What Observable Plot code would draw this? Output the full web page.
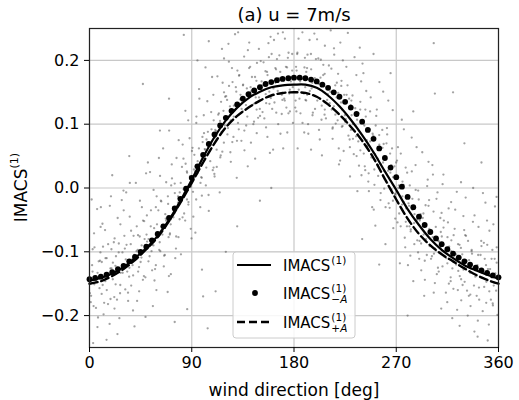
<!DOCTYPE html>
<html><head><meta charset="utf-8">
<script src="https://cdn.jsdelivr.net/npm/d3@7"></script>
<script src="https://cdn.jsdelivr.net/npm/@observablehq/plot@0.6"></script>
<style>body{margin:0;background:#fff;font-family:"DejaVu Sans",sans-serif}</style>
</head><body><div id="chart"></div><script>
const title = "(a) u = 7m/s";
const xLabel = "wind direction [deg]";
const xTicks = [0, 90, 180, 270, 360];
const yTicks = [-0.2, -0.1, 0.0, 0.1, 0.2];

// IMACS(1) (solid) and IMACS(1)_{+A} (dashed), every 10 deg
const degCoarse = [0,10,20,30,40,50,60,70,80,90,100,110,120,130,140,150,160,170,180,190,200,210,220,230,240,250,260,270,280,290,300,310,320,330,340,350,360];
const imacs = [-0.145,-0.141,-0.134,-0.124,-0.110,-0.094,-0.075,-0.050,-0.020,0.013,0.048,0.080,0.106,0.126,0.141,0.151,0.158,0.161,0.162,0.162,0.157,0.145,0.128,0.107,0.083,0.056,0.026,-0.003,-0.033,-0.058,-0.080,-0.097,-0.110,-0.121,-0.129,-0.136,-0.142];
const imacsPlusA = [-0.150,-0.146,-0.138,-0.127,-0.113,-0.096,-0.077,-0.052,-0.023,0.008,0.040,0.070,0.095,0.113,0.126,0.137,0.145,0.149,0.150,0.149,0.143,0.131,0.115,0.096,0.074,0.047,0.014,-0.018,-0.048,-0.072,-0.090,-0.104,-0.115,-0.126,-0.136,-0.144,-0.150];

// IMACS(1)_{-A} (dots), every 5 deg
const degFine = [0,5,10,15,20,25,30,35,40,45,50,55,60,65,70,75,80,85,90,95,100,105,110,115,120,125,130,135,140,145,150,155,160,165,170,175,180,185,190,195,200,205,210,215,220,225,230,235,240,245,250,255,260,265,270,275,280,285,290,295,300,305,310,315,320,325,330,335,340,345,350,355,360];
const imacsMinusA = [-0.143,-0.141,-0.139,-0.136,-0.132,-0.127,-0.122,-0.115,-0.108,-0.100,-0.092,-0.082,-0.072,-0.060,-0.047,-0.032,-0.017,-0.001,0.016,0.034,0.052,0.069,0.084,0.098,0.110,0.121,0.131,0.140,0.147,0.153,0.158,0.163,0.166,0.169,0.171,0.172,0.173,0.173,0.172,0.170,0.167,0.162,0.157,0.150,0.143,0.135,0.126,0.116,0.104,0.091,0.077,0.062,0.047,0.032,0.017,0.002,-0.014,-0.030,-0.045,-0.058,-0.069,-0.079,-0.088,-0.096,-0.103,-0.109,-0.115,-0.120,-0.125,-0.129,-0.133,-0.137,-0.140];

// scattered samples [deg, value]
const samples = [
[3.2,-0.243],[7.5,-0.203],[1.1,-0.179],[8.8,-0.157],[5.4,-0.138],[2.3,-0.121],[9.6,-0.101],[4.0,-0.071],[6.7,-0.033],
[16.1,-0.133],[10.8,-0.116],[19.3,-0.096],[13.7,-0.066],[17.9,-0.028],[15.0,-0.238],[12.4,-0.198],[18.5,-0.174],[11.6,-0.152],
[28.4,-0.019],[24.6,-0.229],[22.0,-0.189],[26.9,-0.165],[20.5,-0.143],[29.1,-0.124],[23.3,-0.107],[25.8,-0.087],[27.2,-0.057],
[33.2,-0.131],[37.5,-0.112],[31.1,-0.095],[38.8,-0.075],[35.4,-0.045],[32.3,-0.007],[39.6,-0.217],[34.0,-0.177],[36.7,-0.153],
[46.1,-0.030],[40.8,0.008],[49.3,-0.202],[43.7,-0.162],[47.9,-0.138],[45.0,-0.116],[42.4,-0.097],[48.5,-0.080],[41.6,-0.060],
[58.4,-0.121],[54.6,-0.099],[52.0,-0.080],[56.9,-0.063],[50.5,-0.043],[59.1,-0.013],[53.3,0.025],[55.8,-0.185],[57.2,-0.145],
[63.2,-0.021],[67.5,0.009],[61.1,0.047],[68.8,-0.163],[65.4,-0.123],[62.3,-0.099],[69.6,-0.077],[64.0,-0.058],[66.7,-0.041],
[76.1,-0.095],[70.8,-0.071],[79.3,-0.049],[73.7,-0.030],[77.9,-0.013],[75.0,0.007],[72.4,0.037],[78.5,0.075],[71.6,-0.135],
[88.4,0.018],[84.6,0.038],[82.0,0.068],[86.9,0.106],[80.5,-0.104],[89.1,-0.064],[83.3,-0.040],[85.8,-0.018],[87.2,0.001],
[93.2,-0.070],[97.5,-0.030],[91.1,-0.006],[98.8,0.016],[95.4,0.035],[92.3,0.052],[99.6,0.072],[94.0,0.102],[96.7,0.140],
[106.1,0.069],[100.8,0.086],[109.3,0.106],[103.7,0.136],[107.9,0.174],[105.0,-0.036],[102.4,0.004],[108.5,0.028],[101.6,0.050],
[118.4,0.203],[114.6,-0.007],[112.0,0.033],[116.9,0.057],[110.5,0.079],[119.1,0.098],[113.3,0.115],[115.8,0.135],[117.2,0.165],
[123.2,0.102],[127.5,0.121],[121.1,0.138],[128.8,0.158],[125.4,0.188],[122.3,0.226],[129.6,0.016],[124.0,0.056],[126.7,0.080],
[136.1,0.206],[130.8,0.244],[139.3,0.034],[133.7,0.074],[137.9,0.098],[135.0,0.120],[132.4,0.139],[138.5,0.156],[131.6,0.176],
[148.4,0.110],[144.6,0.132],[142.0,0.151],[146.9,0.168],[140.5,0.188],[149.1,0.218],[143.3,0.256],[145.8,0.046],[147.2,0.086],
[153.2,0.197],[157.5,0.227],[151.1,0.265],[158.8,0.055],[155.4,0.095],[152.3,0.119],[159.6,0.141],[154.0,0.160],[156.7,0.177],
[166.1,0.100],[160.8,0.124],[169.3,0.146],[163.7,0.165],[167.9,0.182],[165.0,0.202],[162.4,0.232],[168.5,0.270],[161.6,0.060],
[178.4,0.184],[174.6,0.204],[172.0,0.234],[176.9,0.272],[170.5,0.062],[179.1,0.102],[173.3,0.126],[175.8,0.148],[177.2,0.167],
[183.2,0.062],[187.5,0.102],[181.1,0.126],[188.8,0.148],[185.4,0.167],[182.3,0.184],[189.6,0.204],[184.0,0.234],[186.7,0.272],
[196.1,0.165],[190.8,0.182],[199.3,0.202],[193.7,0.232],[197.9,0.270],[195.0,0.060],[192.4,0.100],[198.5,0.124],[191.6,0.146],
[208.4,0.261],[204.6,0.051],[202.0,0.091],[206.9,0.115],[200.5,0.137],[209.1,0.156],[203.3,0.173],[205.8,0.193],[207.2,0.223],
[213.2,0.123],[217.5,0.142],[211.1,0.159],[218.8,0.179],[215.4,0.209],[212.3,0.247],[219.6,0.037],[214.0,0.077],[216.7,0.101],
[226.1,0.190],[220.8,0.228],[229.3,0.018],[223.7,0.058],[227.9,0.082],[225.0,0.104],[222.4,0.123],[228.5,0.140],[221.6,0.160],
[238.4,0.059],[234.6,0.081],[232.0,0.100],[236.9,0.117],[230.5,0.137],[239.1,0.167],[233.3,0.205],[235.8,-0.005],[237.2,0.035],
[243.2,0.112],[247.5,0.142],[241.1,0.180],[248.8,-0.030],[245.4,0.010],[242.3,0.034],[249.6,0.056],[244.0,0.075],[246.7,0.092],
[256.1,-0.019],[250.8,0.005],[259.3,0.027],[253.7,0.046],[257.9,0.063],[255.0,0.083],[252.4,0.113],[258.5,0.151],[251.6,-0.059],
[268.4,0.034],[264.6,0.054],[262.0,0.084],[266.9,0.122],[260.5,-0.088],[269.1,-0.048],[263.3,-0.024],[265.8,-0.002],[267.2,0.017],
[273.2,-0.118],[277.5,-0.078],[271.1,-0.054],[278.8,-0.032],[275.4,-0.013],[272.3,0.004],[279.6,0.024],[274.0,0.054],[276.7,0.092],
[286.1,-0.041],[280.8,-0.024],[289.3,-0.004],[283.7,0.026],[287.9,0.064],[285.0,-0.146],[282.4,-0.106],[288.5,-0.082],[281.6,-0.060],
[298.4,0.041],[294.6,-0.169],[292.0,-0.129],[296.9,-0.105],[290.5,-0.083],[299.1,-0.064],[293.3,-0.047],[295.8,-0.027],[297.2,0.003],
[303.2,-0.103],[307.5,-0.084],[301.1,-0.067],[308.8,-0.047],[305.4,-0.017],[302.3,0.021],[309.6,-0.189],[304.0,-0.149],[306.7,-0.125],
[316.1,-0.032],[310.8,0.006],[319.3,-0.204],[313.7,-0.164],[317.9,-0.140],[315.0,-0.118],[312.4,-0.099],[318.5,-0.082],[311.6,-0.062],
[328.4,-0.152],[324.6,-0.130],[322.0,-0.111],[326.9,-0.094],[320.5,-0.074],[329.1,-0.044],[323.3,-0.006],[325.8,-0.216],[327.2,-0.176],
[333.2,-0.083],[337.5,-0.053],[331.1,-0.015],[338.8,-0.225],[335.4,-0.185],[332.3,-0.161],[339.6,-0.139],[334.0,-0.120],[336.7,-0.103],
[346.1,-0.193],[340.8,-0.169],[349.3,-0.147],[343.7,-0.128],[347.9,-0.111],[345.0,-0.091],[342.4,-0.061],[348.5,-0.023],[341.6,-0.233],
[358.4,-0.117],[354.6,-0.097],[352.0,-0.067],[356.9,-0.029],[350.5,-0.239],[359.1,-0.199],[353.3,-0.175],[355.8,-0.153],[357.2,-0.134],
[0.3,-0.165],[5.9,-0.147],[2.7,-0.131],[8.1,-0.115],[4.4,-0.093],[9.8,-0.061],[1.9,-0.018],[7.0,-0.218],[3.6,-0.185],
[17.7,-0.213],[12.9,-0.180],[15.2,-0.160],[10.2,-0.142],[19.4,-0.126],[14.1,-0.110],[16.4,-0.088],[11.4,-0.056],[18.9,-0.013],
[24.8,-0.047],[29.9,-0.004],[26.3,-0.204],[21.8,-0.171],[23.0,-0.151],[27.4,-0.133],[20.6,-0.117],[29.0,-0.101],[22.1,-0.079],
[32.6,-0.089],[36.6,-0.067],[30.1,-0.035],[35.5,0.008],[38.3,-0.192],[31.5,-0.159],[34.9,-0.139],[37.9,-0.121],[39.4,-0.105],
[40.3,-0.106],[45.9,-0.090],[42.7,-0.074],[48.1,-0.052],[44.4,-0.020],[49.8,0.023],[41.9,-0.177],[47.0,-0.144],[43.6,-0.124],
[57.7,-0.127],[52.9,-0.107],[55.2,-0.089],[50.2,-0.073],[59.4,-0.057],[54.1,-0.035],[56.4,-0.003],[51.4,0.040],[58.9,-0.160],
[64.8,0.062],[69.9,-0.138],[66.3,-0.105],[61.8,-0.085],[63.0,-0.067],[67.4,-0.051],[60.6,-0.035],[69.0,-0.013],[62.1,0.019],
[72.6,0.015],[76.6,0.047],[70.1,0.090],[75.5,-0.110],[78.3,-0.077],[71.5,-0.057],[74.9,-0.039],[77.9,-0.023],[79.4,-0.007],
[80.3,0.008],[85.9,0.024],[82.7,0.046],[88.1,0.078],[84.4,0.121],[89.8,-0.079],[81.9,-0.046],[87.0,-0.026],[83.6,-0.008],
[97.7,0.008],[92.9,0.026],[95.2,0.042],[90.2,0.058],[99.4,0.080],[94.1,0.112],[96.4,0.155],[91.4,-0.045],[98.9,-0.012],
[104.8,-0.011],[109.9,0.022],[106.3,0.042],[101.8,0.060],[103.0,0.076],[107.4,0.092],[100.6,0.114],[109.0,0.146],[102.1,0.189],
[112.6,0.175],[116.6,0.218],[110.1,0.018],[115.5,0.051],[118.3,0.071],[111.5,0.089],[114.9,0.105],[117.9,0.121],[119.4,0.143],
[120.3,0.144],[125.9,0.166],[122.7,0.198],[128.1,0.241],[124.4,0.041],[129.8,0.074],[121.9,0.094],[127.0,0.112],[123.6,0.128],
[137.7,0.130],[132.9,0.146],[135.2,0.162],[130.2,0.184],[139.4,0.216],[134.1,0.259],[136.4,0.059],[131.4,0.092],[138.9,0.112],
[144.8,0.104],[149.9,0.124],[146.3,0.142],[141.8,0.158],[143.0,0.174],[147.4,0.196],[140.6,0.228],[149.0,0.271],[142.1,0.071],
[152.6,0.280],[156.6,0.080],[150.1,0.113],[155.5,0.133],[158.3,0.151],[151.5,0.167],[154.9,0.183],[157.9,0.205],[159.4,0.237],
[160.3,0.210],[165.9,0.242],[162.7,0.285],[168.1,0.085],[164.4,0.118],[169.8,0.138],[161.9,0.156],[167.0,0.172],[163.6,0.188],
[177.7,0.174],[172.9,0.190],[175.2,0.212],[170.2,0.244],[179.4,0.287],[174.1,0.087],[176.4,0.120],[171.4,0.140],[178.9,0.158],
[184.8,0.140],[189.9,0.158],[186.3,0.174],[181.8,0.190],[183.0,0.212],[187.4,0.244],[180.6,0.287],[189.0,0.087],[182.1,0.120],
[192.6,0.085],[196.6,0.118],[190.1,0.138],[195.5,0.156],[198.3,0.172],[191.5,0.188],[194.9,0.210],[197.9,0.242],[199.4,0.285],
[200.3,0.233],[205.9,0.276],[202.7,0.076],[208.1,0.109],[204.4,0.129],[209.8,0.147],[201.9,0.163],[207.0,0.179],[203.6,0.201],
[217.7,0.165],[212.9,0.187],[215.2,0.219],[210.2,0.262],[219.4,0.062],[214.1,0.095],[216.4,0.115],[211.4,0.133],[218.9,0.149],
[224.8,0.114],[229.9,0.130],[226.3,0.146],[221.8,0.168],[223.0,0.200],[227.4,0.243],[220.6,0.043],[229.0,0.076],[222.1,0.096],
[232.6,0.053],[236.6,0.073],[230.1,0.091],[235.5,0.107],[238.3,0.123],[231.5,0.145],[234.9,0.177],[237.9,0.220],[239.4,0.020],
[240.3,0.195],[245.9,-0.005],[242.7,0.028],[248.1,0.048],[244.4,0.066],[249.8,0.082],[241.9,0.098],[247.0,0.120],[243.6,0.152],
[257.7,0.091],[252.9,0.123],[255.2,0.166],[250.2,-0.034],[259.4,-0.001],[254.1,0.019],[256.4,0.037],[251.4,0.053],[258.9,0.069],
[264.8,0.024],[269.9,0.040],[266.3,0.062],[261.8,0.094],[263.0,0.137],[267.4,-0.063],[260.6,-0.030],[269.0,-0.010],[262.1,0.008],
[272.6,-0.040],[276.6,-0.022],[270.1,-0.006],[275.5,0.010],[278.3,0.032],[271.5,0.064],[274.9,0.107],[277.9,-0.093],[279.4,-0.060],
[280.3,-0.121],[285.9,-0.088],[282.7,-0.068],[288.1,-0.050],[284.4,-0.034],[289.8,-0.018],[281.9,0.004],[287.0,0.036],[283.6,0.079],
[297.7,0.013],[292.9,0.056],[295.2,-0.144],[290.2,-0.111],[299.4,-0.091],[294.1,-0.073],[296.4,-0.057],[291.4,-0.041],[298.9,-0.019],
[304.8,-0.061],[309.9,-0.039],[306.3,-0.007],[301.8,0.036],[303.0,-0.164],[307.4,-0.131],[300.6,-0.111],[309.0,-0.093],[302.1,-0.077],
[312.6,-0.108],[316.6,-0.092],[310.1,-0.076],[315.5,-0.054],[318.3,-0.022],[311.5,0.021],[314.9,-0.179],[317.9,-0.146],[319.4,-0.126],
[320.3,-0.158],[325.9,-0.138],[322.7,-0.120],[328.1,-0.104],[324.4,-0.088],[329.8,-0.066],[321.9,-0.034],[327.0,0.009],[323.6,-0.191],
[337.7,0.000],[332.9,-0.200],[335.2,-0.167],[330.2,-0.147],[339.4,-0.129],[334.1,-0.113],[336.4,-0.097],[331.4,-0.075],[338.9,-0.043],
[344.8,-0.083],[349.9,-0.051],[346.3,-0.008],[341.8,-0.208],[343.0,-0.175],[347.4,-0.155],[340.6,-0.137],[349.0,-0.121],[342.1,-0.105],
[352.6,-0.127],[356.6,-0.111],[350.1,-0.089],[355.5,-0.057],[358.3,-0.014],[351.5,-0.214],[354.9,-0.181],[357.9,-0.161],[359.4,-0.143],
[1.4,-0.169],[4.2,-0.151],[7.1,-0.133],[9.2,-0.114],[2.8,-0.096],[5.7,-0.188],
[16.3,-0.182],[10.7,-0.166],[13.9,-0.146],[18.4,-0.126],[15.1,-0.110],[11.9,-0.092],
[21.4,-0.085],[24.2,-0.175],[27.1,-0.152],[29.2,-0.133],[22.8,-0.122],[25.7,-0.101],
[36.3,-0.088],[30.7,-0.075],[33.9,-0.164],[38.4,-0.137],[35.1,-0.125],[31.9,-0.112],
[41.4,-0.099],[44.2,-0.076],[47.1,-0.051],[49.2,-0.140],[42.8,-0.131],[45.7,-0.109],
[56.3,-0.090],[50.7,-0.084],[53.9,-0.060],[58.4,-0.030],[55.1,-0.129],[51.9,-0.115],
[61.4,-0.097],[64.2,-0.073],[67.1,-0.048],[69.2,-0.025],[62.8,-0.020],[65.7,-0.106],
[76.3,-0.076],[70.7,-0.073],[73.9,-0.046],[78.4,-0.016],[75.1,-0.008],[71.9,0.004],
[81.4,0.033],[84.2,-0.051],[87.1,-0.022],[89.2,0.002],[82.8,-0.002],[85.7,0.026],
[96.3,0.062],[90.7,0.063],[93.9,-0.018],[98.4,0.017],[95.1,0.023],[91.9,0.029],
[101.4,0.061],[104.2,0.088],[107.1,0.119],[109.2,0.032],[102.8,0.032],[105.7,0.058],
[116.3,0.088],[110.7,0.091],[113.9,0.117],[118.4,0.150],[115.1,0.048],[111.9,0.060],
[121.4,0.084],[124.2,0.106],[127.1,0.129],[129.2,0.151],[122.8,0.160],[125.7,0.072],
[136.3,0.090],[130.7,0.102],[133.9,0.124],[138.4,0.148],[135.1,0.161],[131.9,0.177],
[141.4,0.190],[144.2,0.100],[147.1,0.123],[149.2,0.142],[142.8,0.153],[145.7,0.174],
[156.3,0.182],[150.7,0.199],[153.9,0.109],[158.4,0.132],[155.1,0.147],[151.9,0.161],
[161.4,0.167],[164.2,0.186],[167.1,0.208],[169.2,0.116],[162.8,0.134],[165.7,0.152],
[176.3,0.154],[170.7,0.171],[173.9,0.189],[178.4,0.210],[175.1,0.117],[171.9,0.137],
[181.4,0.137],[184.2,0.154],[187.1,0.171],[189.2,0.189],[182.8,0.210],[185.7,0.117],
[196.3,0.114],[190.7,0.137],[193.9,0.152],[198.4,0.167],[195.1,0.186],[191.9,0.209],
[201.4,0.203],[204.2,0.107],[207.1,0.123],[209.2,0.138],[202.8,0.163],[205.7,0.177],
[216.3,0.161],[210.7,0.192],[213.9,0.093],[218.4,0.106],[215.1,0.128],[211.9,0.151],
[221.4,0.134],[224.2,0.146],[227.1,0.161],[229.2,0.064],[222.8,0.097],[225.7,0.108],
[236.3,0.084],[230.7,0.114],[233.9,0.125],[238.4,0.135],[235.1,0.050],[231.9,0.077],
[241.4,0.054],[244.2,0.064],[247.1,0.073],[249.2,0.085],[242.8,0.123],[245.7,0.023],
[256.3,-0.008],[250.7,0.029],[253.9,0.036],[258.4,0.040],[255.1,0.068],[251.9,0.098],
[261.4,0.070],[264.2,-0.031],[267.1,-0.020],[269.2,-0.009],[262.8,0.027],[265.7,0.036],
[276.3,0.005],[270.7,0.043],[273.9,-0.060],[278.4,-0.053],[275.1,-0.026],[271.9,0.000],
[281.4,-0.028],[284.2,-0.017],[287.1,-0.003],[289.2,-0.101],[282.8,-0.065],[285.7,-0.055],
[296.3,-0.080],[290.7,-0.051],[293.9,-0.040],[298.4,-0.028],[295.1,-0.114],[291.9,-0.087],
[301.4,-0.107],[304.2,-0.095],[307.1,-0.083],[309.2,-0.069],[302.8,-0.037],[305.7,-0.135],
[316.3,-0.150],[310.7,-0.123],[313.9,-0.110],[318.4,-0.099],[315.1,-0.077],[311.9,-0.051],
[321.4,-0.064],[324.2,-0.160],[327.1,-0.143],[329.2,-0.128],[322.8,-0.104],[325.7,-0.089],
[336.3,-0.099],[330.7,-0.074],[333.9,-0.169],[338.4,-0.153],[335.1,-0.133],[331.9,-0.114],
[341.4,-0.121],[344.2,-0.105],[347.1,-0.086],[349.2,-0.180],[342.8,-0.156],[345.7,-0.141],
[356.3,-0.148],[350.7,-0.127],[353.9,-0.111],[358.4,-0.093],[355.1,-0.184],[351.9,-0.162],
[47,0.163],[83,0.240],[70,0.140],[62,0.090],[35,0.050],[20,0.020],[111,-0.162],[99,-0.128],[104,-0.220],[120,-0.100],
[130,-0.060],[150,-0.020],[160,0.000],[240,-0.080],[255,-0.120],[280,-0.200],[303,0.227],[320,0.150],[304,0.148],[330,0.070],
[345,0.040],[95,0.200],[105,0.230],[250,0.210],[265,0.180],[285,0.120],[100,-0.170],[86,-0.190],[75,-0.210],[10,-0.030]
];

const solidRows = degCoarse.map((d, i) => ({deg: d, v: imacs[i]}));
const dashedRows = degCoarse.map((d, i) => ({deg: d, v: imacsPlusA[i]}));
const dotRows = degFine.map((d, i) => ({deg: d, v: imacsMinusA[i]}));
const sampleRows = samples.map(([d, v]) => ({deg: d, v}));

const fmtY = d => (d < 0 ? "\u2212" : "") + Math.abs(d).toFixed(1);

const chart = Plot.plot({
  width: 519, height: 400,
  marginTop: 28, marginLeft: 89, marginRight: 21, marginBottom: 53,
  style: {fontFamily: "DejaVu Sans", fontSize: "16px", color: "#000", background: "#fff"},
  x: {domain: [0, 360]},
  y: {domain: [-0.25, 0.25]},
  marks: [
    Plot.gridX(xTicks, {stroke: "#c8c8c8", strokeOpacity: 1, strokeWidth: 1.2}),
    Plot.gridY(yTicks, {stroke: "#c8c8c8", strokeOpacity: 1, strokeWidth: 1.2}),
    Plot.dot(sampleRows, {x: "deg", y: "v", r: 1.15, fill: "#555", fillOpacity: 0.55, clip: true}),
    Plot.line(solidRows, {x: "deg", y: "v", stroke: "#000", strokeWidth: 2.2, curve: "catmull-rom"}),
    Plot.line(dashedRows, {x: "deg", y: "v", stroke: "#000", strokeWidth: 2.4, strokeDasharray: "8,4", curve: "catmull-rom"}),
    Plot.dot(dotRows, {x: "deg", y: "v", r: 2.9, fill: "#000"}),
    Plot.frame({stroke: "#222", strokeWidth: 1.2}),
    Plot.axisX(xTicks, {tickSize: 5, tickPadding: 4, fontSize: 16, label: null, tickFormat: d => String(d)}),
    Plot.axisY(yTicks, {tickSize: 5, tickPadding: 5, fontSize: 16, label: null, tickFormat: fmtY}),
    Plot.text([xLabel], {frameAnchor: "bottom", lineAnchor: "middle", dy: 43, fontSize: 17}),
    Plot.text([title], {frameAnchor: "top", lineAnchor: "middle", dy: -13, fontSize: 18})
  ]
});
document.getElementById("chart").appendChild(chart);

// y-axis label with superscript
const svg = d3.select(chart);
const ys = chart.scale("y");
const cy = ys.apply(0);
const ylab = svg.append("text")
  .attr("transform", `translate(22,${cy}) rotate(-90)`)
  .attr("text-anchor", "middle").attr("dominant-baseline", "middle")
  .attr("font-family", "DejaVu Sans").attr("font-size", 17);
ylab.append("tspan").text("IMACS");
ylab.append("tspan").attr("font-size", 11).attr("dy", -7).text("(1)");

// legend
const lg = svg.append("g").attr("text-anchor", "start");
lg.append("rect").attr("x", 233).attr("y", 252).attr("width", 122).attr("height", 86)
  .attr("rx", 3).attr("fill", "#fff").attr("fill-opacity", 0.85).attr("stroke", "#cccccc");
const rows = [
  {y: 265, kind: "solid", sub: null},
  {y: 293, kind: "dot", sub: "\u2212A"},
  {y: 322, kind: "dash", sub: "+A"}
];
rows.forEach(r => {
  if (r.kind === "solid") lg.append("line").attr("x1", 237).attr("x2", 271).attr("y1", r.y).attr("y2", r.y).attr("stroke", "#000").attr("stroke-width", 2.2);
  if (r.kind === "dash") lg.append("line").attr("x1", 237).attr("x2", 271).attr("y1", r.y).attr("y2", r.y).attr("stroke", "#000").attr("stroke-width", 2.4).attr("stroke-dasharray", "8,4");
  if (r.kind === "dot") lg.append("circle").attr("cx", 255).attr("cy", r.y).attr("r", 2.9).attr("fill", "#000");
  const t = lg.append("text").attr("x", 283).attr("y", r.y + 5.5).attr("text-anchor", "start")
    .attr("font-family", "DejaVu Sans").attr("font-size", 15).text("IMACS");
  const w = t.node().getComputedTextLength();
  lg.append("text").attr("x", 283 + w + 1).attr("y", r.y - 1.5).attr("text-anchor", "start")
    .attr("font-family", "DejaVu Sans").attr("font-size", 10.5).text("(1)");
  if (r.sub) {
    const s = lg.append("text").attr("x", 283 + w + 1).attr("y", r.y + 9.5).attr("text-anchor", "start")
      .attr("font-family", "DejaVu Sans").attr("font-size", 10.5);
    s.append("tspan").text(r.sub[0]);
    s.append("tspan").attr("font-style", "italic").text("A");
  }
});
</script></body></html>
